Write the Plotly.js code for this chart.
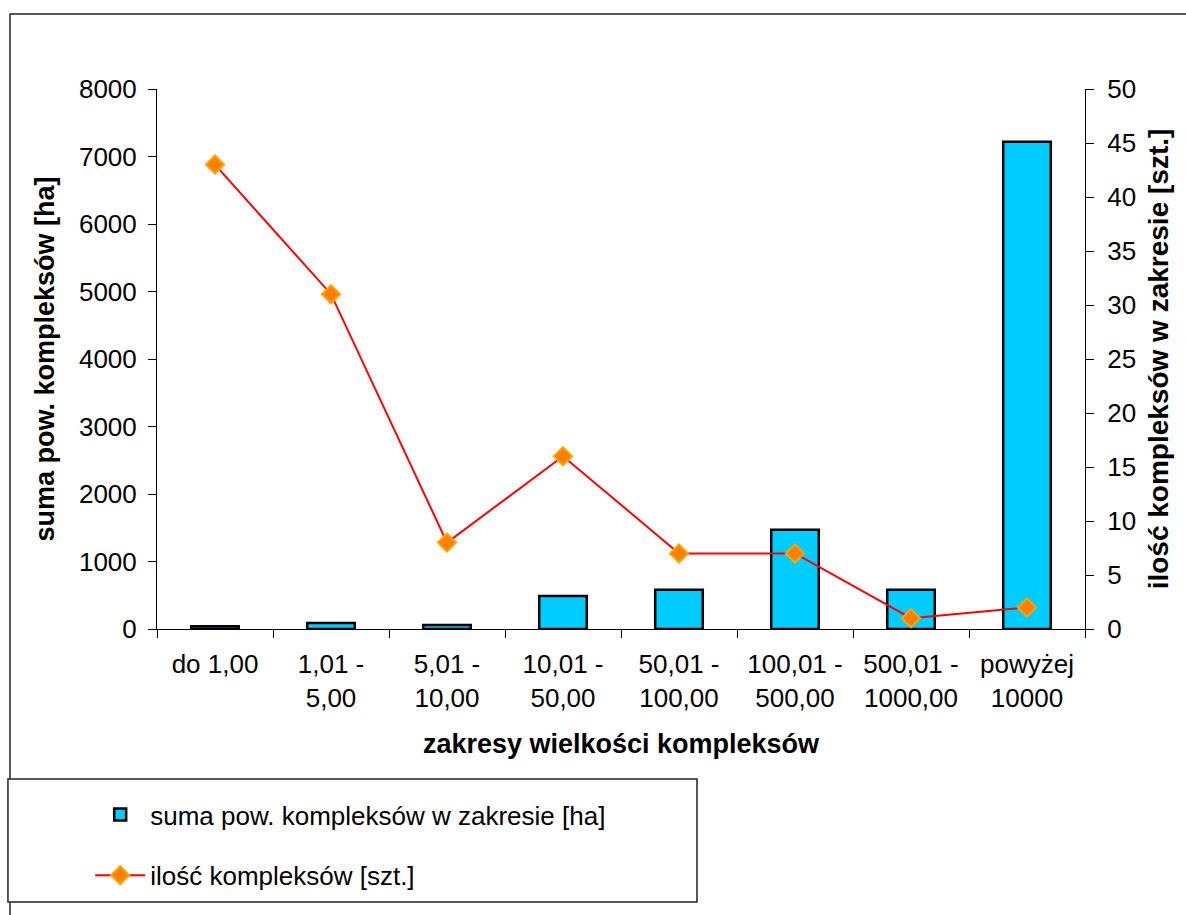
<!DOCTYPE html>
<html>
<head>
<meta charset="utf-8">
<script src="https://cdn.plot.ly/plotly-3.0.1.min.js"></script>
<style>
  html, body { margin: 0; padding: 0; background: #fff; }
  #chart { width: 1186px; height: 915px; }
</style>
</head>
<body>
<div id="chart"></div>
<script>
// Size ranges of forest complexes
const categories = [
  'do 1,00',
  '1,01 -<br>5,00',
  '5,01 -<br>10,00',
  '10,01 -<br>50,00',
  '50,01 -<br>100,00',
  '100,01 -<br>500,00',
  '500,01 -<br>1000,00',
  'powyżej<br>10000'
];
// Total area of complexes in each range [ha]
const areaHa = [40, 90, 60, 490, 580, 1470, 580, 7220];
// Number of complexes in each range [pcs.]
const countPcs = [43, 31, 8, 16, 7, 7, 1, 2];

const leftTicks = [0, 1000, 2000, 3000, 4000, 5000, 6000, 7000, 8000];
const rightTicks = [0, 5, 10, 15, 20, 25, 30, 35, 40, 45, 50];

const FONT = 'Liberation Sans, Arial, sans-serif';

const barTrace = {
  type: 'bar',
  name: 'suma pow. kompleksów w zakresie [ha]',
  x: categories,
  y: areaHa,
  xaxis: 'x',
  yaxis: 'y',
  width: 0.41,
  marker: { color: '#00CCFF', line: { color: '#000000', width: 2.5 } },
  legendgroup: 'a',
  hoverinfo: 'skip'
};

const lineTrace = {
  type: 'scatter',
  mode: 'lines+markers',
  name: 'ilość kompleksów [szt.]',
  x: categories,
  y: countPcs,
  xaxis: 'x',
  yaxis: 'y2',
  line: { color: '#FF0000', width: 2 },
  marker: { symbol: 'diamond', size: 14, color: '#FF7F00', line: { color: '#FFA500', width: 2 } },
  legendgroup: 'b',
  hoverinfo: 'skip'
};

const axisFont = { family: FONT, size: 26, color: '#000' };
const titleFont = { family: FONT, size: 27, color: '#000', weight: 'bold' };

const layout = {
  width: 1186,
  height: 915,
  margin: { l: 157, r: 101, t: 89, b: 286 },
  paper_bgcolor: '#ffffff',
  plot_bgcolor: '#ffffff',
  font: { family: FONT, size: 26, color: '#000' },
  showlegend: true,
  legend: {
    x: -0.072, y: -0.3, xanchor: 'left', yanchor: 'top',
    font: { family: FONT, size: 26, color: '#000' },
    bgcolor: 'rgba(0,0,0,0)',
    traceorder: 'grouped',
    tracegroupgap: 24,
    itemwidth: 50
  },
  xaxis: {
    type: 'category',
    range: [-0.5, 7.5],
    showline: true, linecolor: '#000', linewidth: 1,
    ticks: 'outside', ticklen: 8, tickcolor: '#000', tickwidth: 1,
    tickson: 'boundaries',
    tickfont: axisFont,
    ticklabelstandoff: 12,
    showgrid: false, zeroline: false,
    fixedrange: true,
    title: { text: 'zakresy wielkości kompleksów', font: titleFont, standoff: 22 }
  },
  // inner halves of the crossing category ticks
  xaxis2: {
    overlaying: 'x', anchor: 'y', side: 'bottom',
    type: 'linear', range: [-0.5, 7.5], tick0: -0.5, dtick: 1,
    ticks: 'inside', ticklen: 8, tickcolor: '#000', tickwidth: 1,
    showticklabels: false, showline: false, showgrid: false, zeroline: false,
    fixedrange: true
  },
  yaxis: {
    range: [0, 8000],
    tickvals: leftTicks,
    ticktext: leftTicks.map(String),
    showline: true, linecolor: '#000', linewidth: 1,
    ticks: 'outside', ticklen: 8, tickcolor: '#000', tickwidth: 1,
    tickfont: axisFont,
    ticklabelstandoff: 6,
    showgrid: false, zeroline: false,
    fixedrange: true,
    title: { text: 'suma pow. kompleksów [ha]', font: titleFont, standoff: 16 }
  },
  yaxis3: {
    overlaying: 'y', anchor: 'x', side: 'left',
    range: [0, 8000], tickvals: leftTicks,
    ticks: 'inside', ticklen: 8, tickcolor: '#000', tickwidth: 1,
    showticklabels: false, showline: false, showgrid: false, zeroline: false,
    fixedrange: true
  },
  yaxis2: {
    overlaying: 'y', anchor: 'x', side: 'right',
    range: [0, 50],
    tickvals: rightTicks,
    ticktext: rightTicks.map(String),
    showline: true, linecolor: '#000', linewidth: 1,
    ticks: 'outside', ticklen: 8, tickcolor: '#000', tickwidth: 1,
    tickfont: axisFont,
    ticklabelstandoff: 8,
    showgrid: false, zeroline: false,
    fixedrange: true,
    title: { text: 'ilość kompleksów w zakresie [szt.]', font: { family: FONT, size: 28, color: '#000', weight: 'bold' }, standoff: 13 }
  },
  yaxis4: {
    overlaying: 'y', anchor: 'x', side: 'right',
    range: [0, 50], tickvals: rightTicks,
    ticks: 'inside', ticklen: 8, tickcolor: '#000', tickwidth: 1,
    showticklabels: false, showline: false, showgrid: false, zeroline: false,
    fixedrange: true
  },
  shapes: [
    // outer chart frame
    { type: 'rect', xref: 'paper', yref: 'paper', layer: 'below',
      x0: -0.1584, x1: 1.25, y0: -0.56, y1: 1.1389,
      line: { color: '#222', width: 1.5 }, fillcolor: 'rgba(0,0,0,0)' },
    // legend frame
    { type: 'rect', xref: 'paper', yref: 'paper', layer: 'below',
      x0: -0.1606, x1: 0.5819, y0: -0.5056, y1: -0.2778,
      line: { color: '#222', width: 1.5 }, fillcolor: '#ffffff' }
  ]
};

const config = { displayModeBar: false, staticPlot: true };

Plotly.newPlot('chart', [barTrace, lineTrace], layout, config);
</script>
</body>
</html>
